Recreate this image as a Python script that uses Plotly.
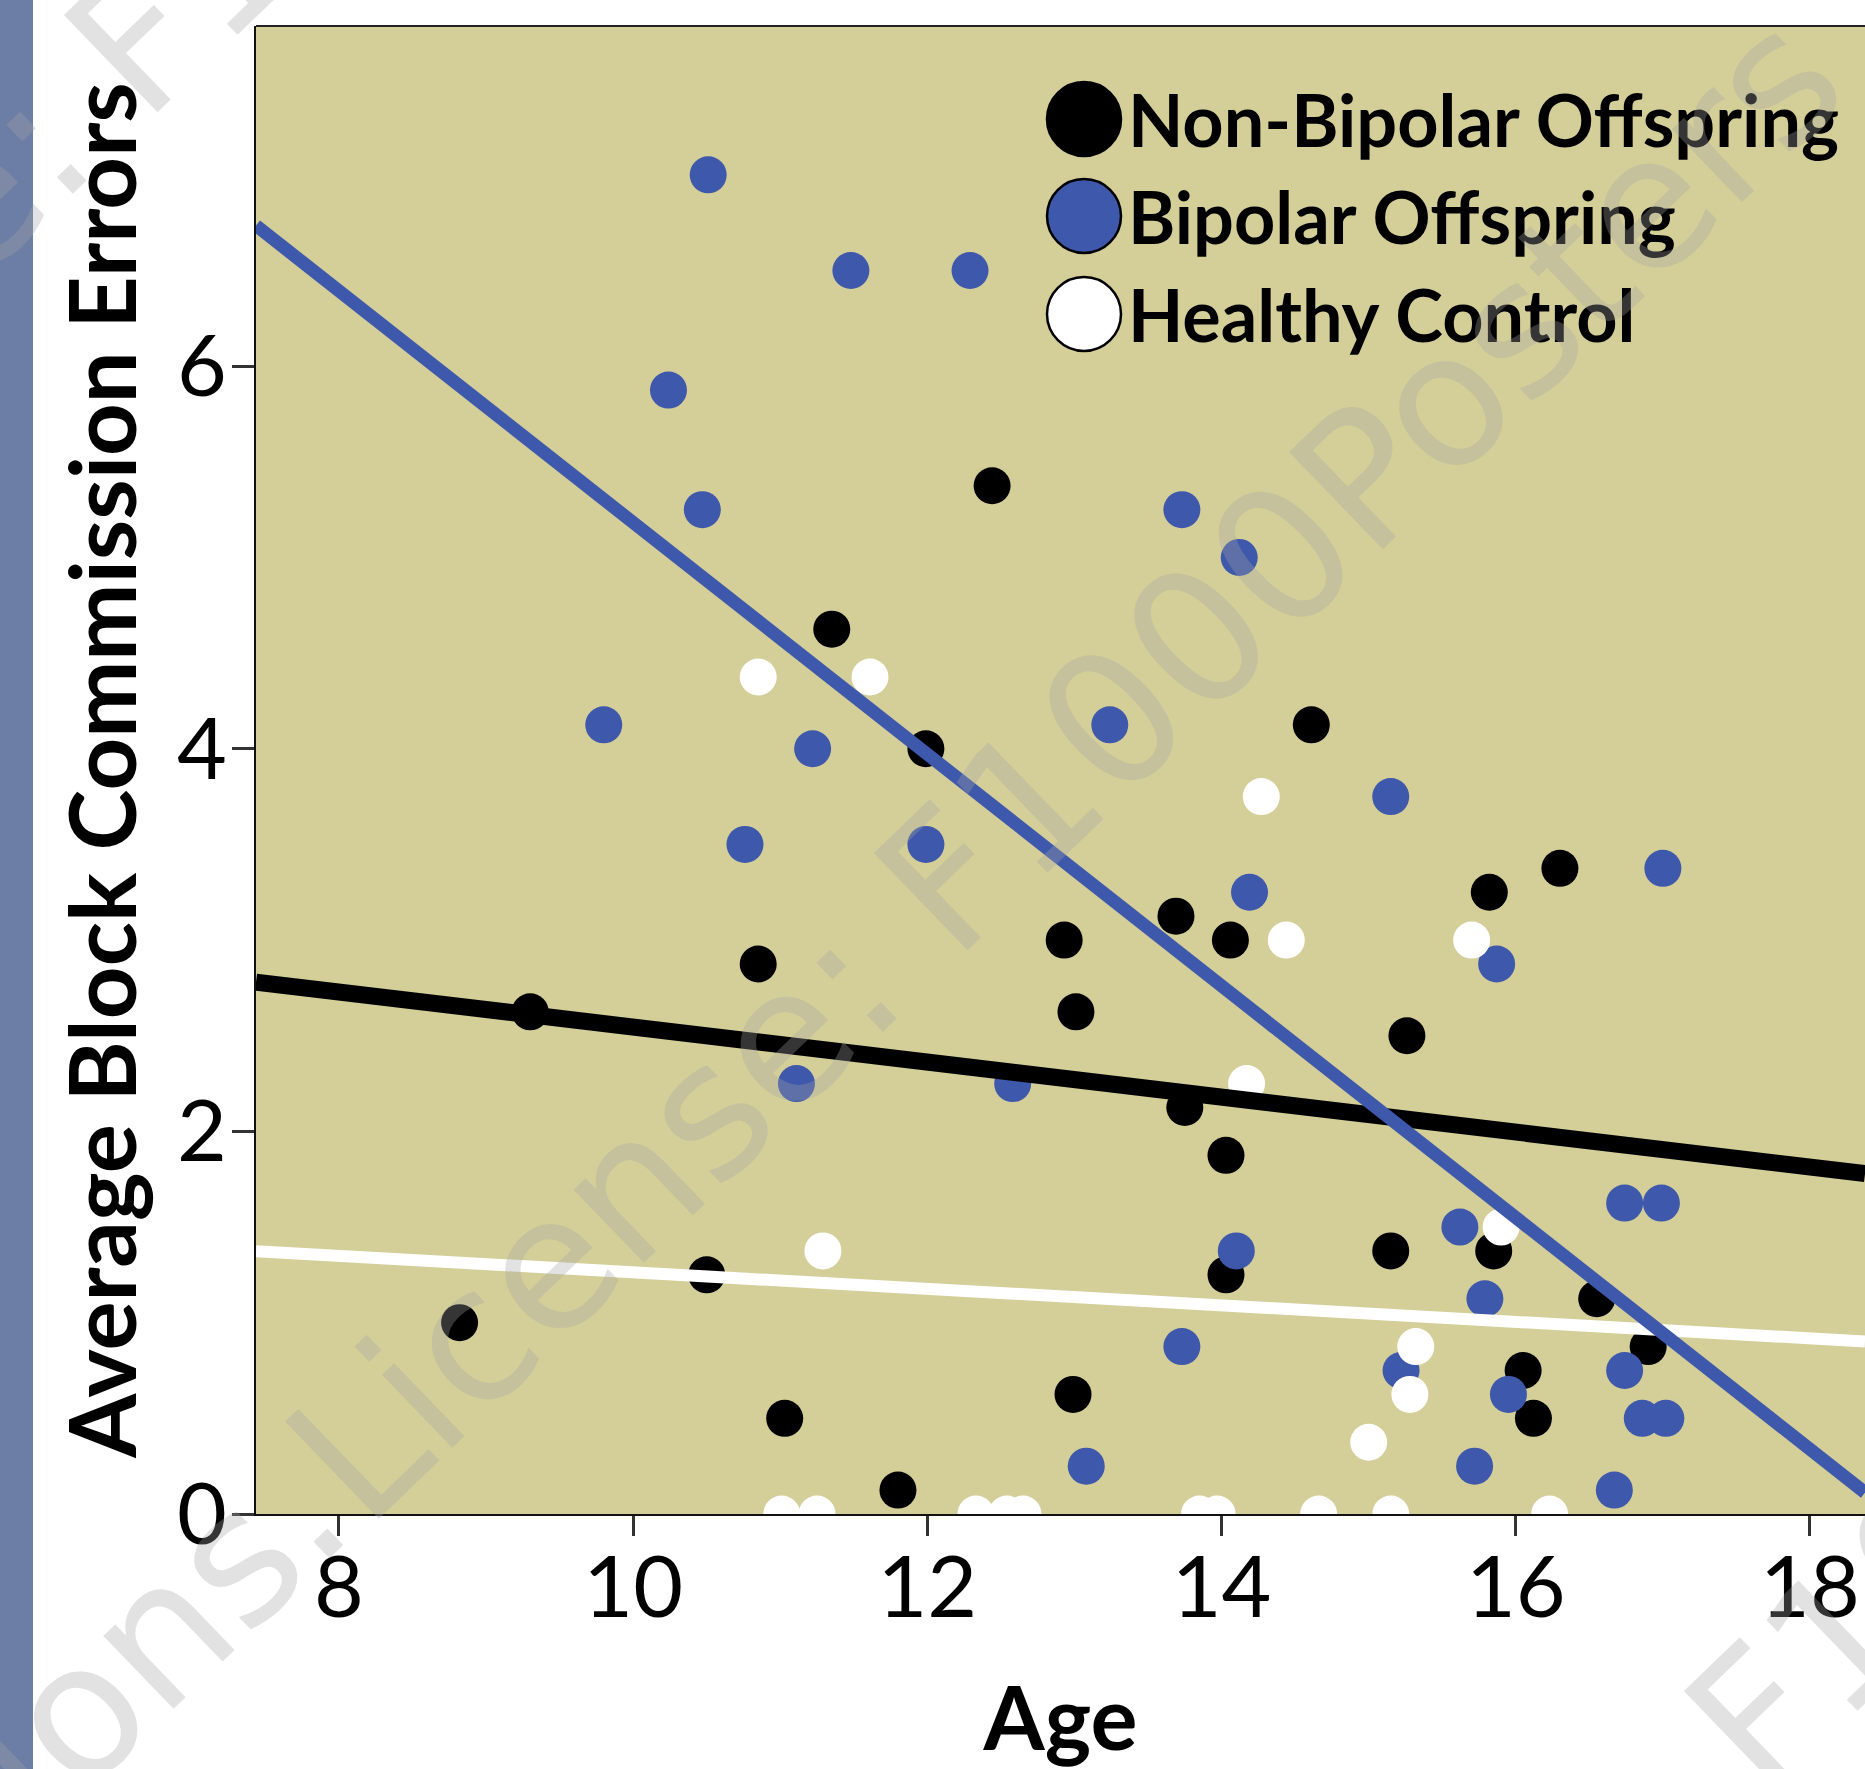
import plotly.graph_objects as go

# ---------------- data ----------------
nonbp_age = [8.82, 9.30, 10.50, 10.85, 11.03, 11.35, 11.80, 11.99, 12.44, 12.93,
             13.01, 12.99, 13.69, 13.75, 14.06, 14.03, 14.03, 14.61, 15.26, 15.15,
             15.82, 15.85, 16.30, 16.55, 16.05, 16.12, 16.90]
nonbp_err = [1.0, 2.625, 1.25, 2.875, 0.5, 4.625, 0.125, 4.0, 5.375, 3.0,
             2.625, 0.625, 3.125, 2.125, 3.0, 1.875, 1.25, 4.125, 2.5, 1.375,
             3.25, 1.375, 3.375, 1.125, 0.75, 0.5, 0.875]

bp_age = [10.51, 11.48, 12.29, 10.24, 10.47, 9.80, 11.22, 10.76, 11.99, 11.11,
          12.58, 13.24, 13.73, 14.12, 14.19, 15.15, 15.87, 17.00, 14.10, 13.73,
          13.08, 15.22, 15.62, 15.79, 15.95, 15.72, 16.74, 16.99, 16.74, 16.86,
          17.02, 16.67]
bp_err = [7.0, 6.5, 6.5, 5.875, 5.25, 4.125, 4.0, 3.5, 3.5, 2.25,
          2.25, 4.125, 5.25, 5.0, 3.25, 3.75, 2.875, 3.375, 1.375, 0.875,
          0.25, 0.75, 1.5, 1.125, 0.625, 0.25, 1.625, 1.625, 0.75, 0.5,
          0.5, 0.125]

hc_age = [10.85, 11.61, 11.29, 14.27, 14.44, 15.70, 14.17, 15.90, 15.32, 15.28,
          15.00, 11.01, 11.25, 12.33, 12.54, 12.65, 13.85, 13.97, 14.66, 15.15,
          16.23]
hc_err = [4.375, 4.375, 1.375, 3.75, 3.0, 3.0, 2.25, 1.5, 0.875, 0.625,
          0.375, 0, 0, 0, 0, 0, 0, 0, 0, 0,
          0]

# fitted regression lines (endpoints at the axis limits)
fit_age = [7.436, 18.374]
fit_nonbp = [2.780, 1.779]
fit_bp = [6.735, 0.112]
fit_hc = [1.374, 0.902]

group_names = ["Non-Bipolar Offspring", "Bipolar Offspring", "Healthy Control"]
x_ticks = [8, 10, 12, 14, 16, 18]
y_ticks = [0, 2, 4, 6]

# ---------------- styling ----------------
BLACK = "#000000"
BLUE = "#3e58ab"
WHITE = "#ffffff"
KHAKI = "#d4ce99"
STRIPE = "#6c7ea5"

W, H = 1865, 1769
ML, MR, MT, MB = 256, 0, 26, 255
PW, PH = W - ML - MR, H - MT - MB

fig = go.Figure()

for ages, errs, col, name in [(nonbp_age, nonbp_err, BLACK, group_names[0]),
                              (bp_age, bp_err, BLUE, group_names[1]),
                              (hc_age, hc_err, WHITE, group_names[2])]:
    fig.add_trace(go.Scatter(x=ages, y=errs, mode="markers", name=name,
                             marker=dict(size=37, color=col, line=dict(width=0)),
                             showlegend=False))

for vals, col, wdt in [(fit_hc, WHITE, 12), (fit_nonbp, BLACK, 17), (fit_bp, BLUE, 13)]:
    fig.add_trace(go.Scatter(x=fit_age, y=vals, mode="lines",
                             line=dict(color=col, width=wdt), showlegend=False,
                             hoverinfo="skip"))

def px_x(px):
    return (px - ML) / PW

def px_y(py):
    return 1 - (py - MT) / PH

shapes = [
    # left decorative stripe of the poster
    dict(type="rect", xref="paper", yref="paper",
         x0=px_x(0), x1=px_x(33), y0=px_y(H), y1=px_y(0),
         fillcolor=STRIPE, line=dict(width=0), layer="below"),
    # top frame line
    dict(type="line", xref="paper", yref="paper", x0=0, x1=1, y0=1, y1=1,
         line=dict(color="#222222", width=2)),
]

annotations = []
# custom legend with large circles
leg_rows = [119, 216, 314]
leg_cols = [BLACK, BLUE, WHITE]
for name, col, ry in zip(group_names, leg_cols, leg_rows):
    shapes.append(dict(type="circle", xref="paper", yref="paper",
                       xsizemode="pixel", ysizemode="pixel",
                       xanchor=px_x(1084), yanchor=px_y(ry),
                       x0=-37, x1=37, y0=-37, y1=37,
                       fillcolor=col, line=dict(color=BLACK, width=2.5)))
    annotations.append(dict(xref="paper", yref="paper", x=px_x(1126), y=px_y(ry),
                            xanchor="left", yanchor="middle", showarrow=False,
                            text=name,
                            font=dict(family="Lato", size=72, color=BLACK,
                                      weight="bold")))

# watermark
WM_FONT = dict(family="DejaVu Sans", size=185, color="rgba(165,165,165,0.32)")
for cx, cy, txt in [(1065, 767, "License: F1000Posters"),
                    (255, -71, "License: F1000Posters"),
                    (1875, 1605, "License: F1000Posters"),
                    (-102, 1886, "Permissions.")]:
    annotations.append(dict(xref="paper", yref="paper", x=px_x(cx), y=px_y(cy),
                            xanchor="center", yanchor="middle", showarrow=False,
                            text=txt, textangle=-44, font=WM_FONT))

fig.update_layout(
    width=W, height=H,
    margin=dict(l=ML, r=MR, t=MT, b=MB, autoexpand=False),
    paper_bgcolor="white", plot_bgcolor=KHAKI,
    shapes=shapes, annotations=annotations,
    showlegend=False,
    xaxis=dict(range=[7.436, 18.374], tickvals=x_ticks, ticks="outside",
               ticklen=20, tickwidth=3, tickcolor="#333333",
               showline=True, linecolor="#111111", linewidth=2,
               showgrid=False, zeroline=False, ticklabelstandoff=-22,
               tickfont=dict(family="Lato", size=86, color=BLACK),
               title=dict(text="Age", standoff=60,
                          font=dict(family="Lato", size=88, color=BLACK, weight="bold"))),
    yaxis=dict(range=[0, 7.778], tickvals=y_ticks, ticks="outside",
               ticklen=22, tickwidth=3, tickcolor="#333333",
               showline=True, linecolor="#111111", linewidth=2,
               showgrid=False, zeroline=False, ticklabelstandoff=-12,
               tickfont=dict(family="Lato", size=86, color=BLACK),
               title=dict(text="Average Block Commission Errors", standoff=10,
                          font=dict(family="Lato", size=92, color=BLACK, weight="bold"))),
)

fig.write_html("out.html", config={"displayModeBar": False},
               post_script="document.body.style.margin='0px';document.body.style.overflow='hidden';")
